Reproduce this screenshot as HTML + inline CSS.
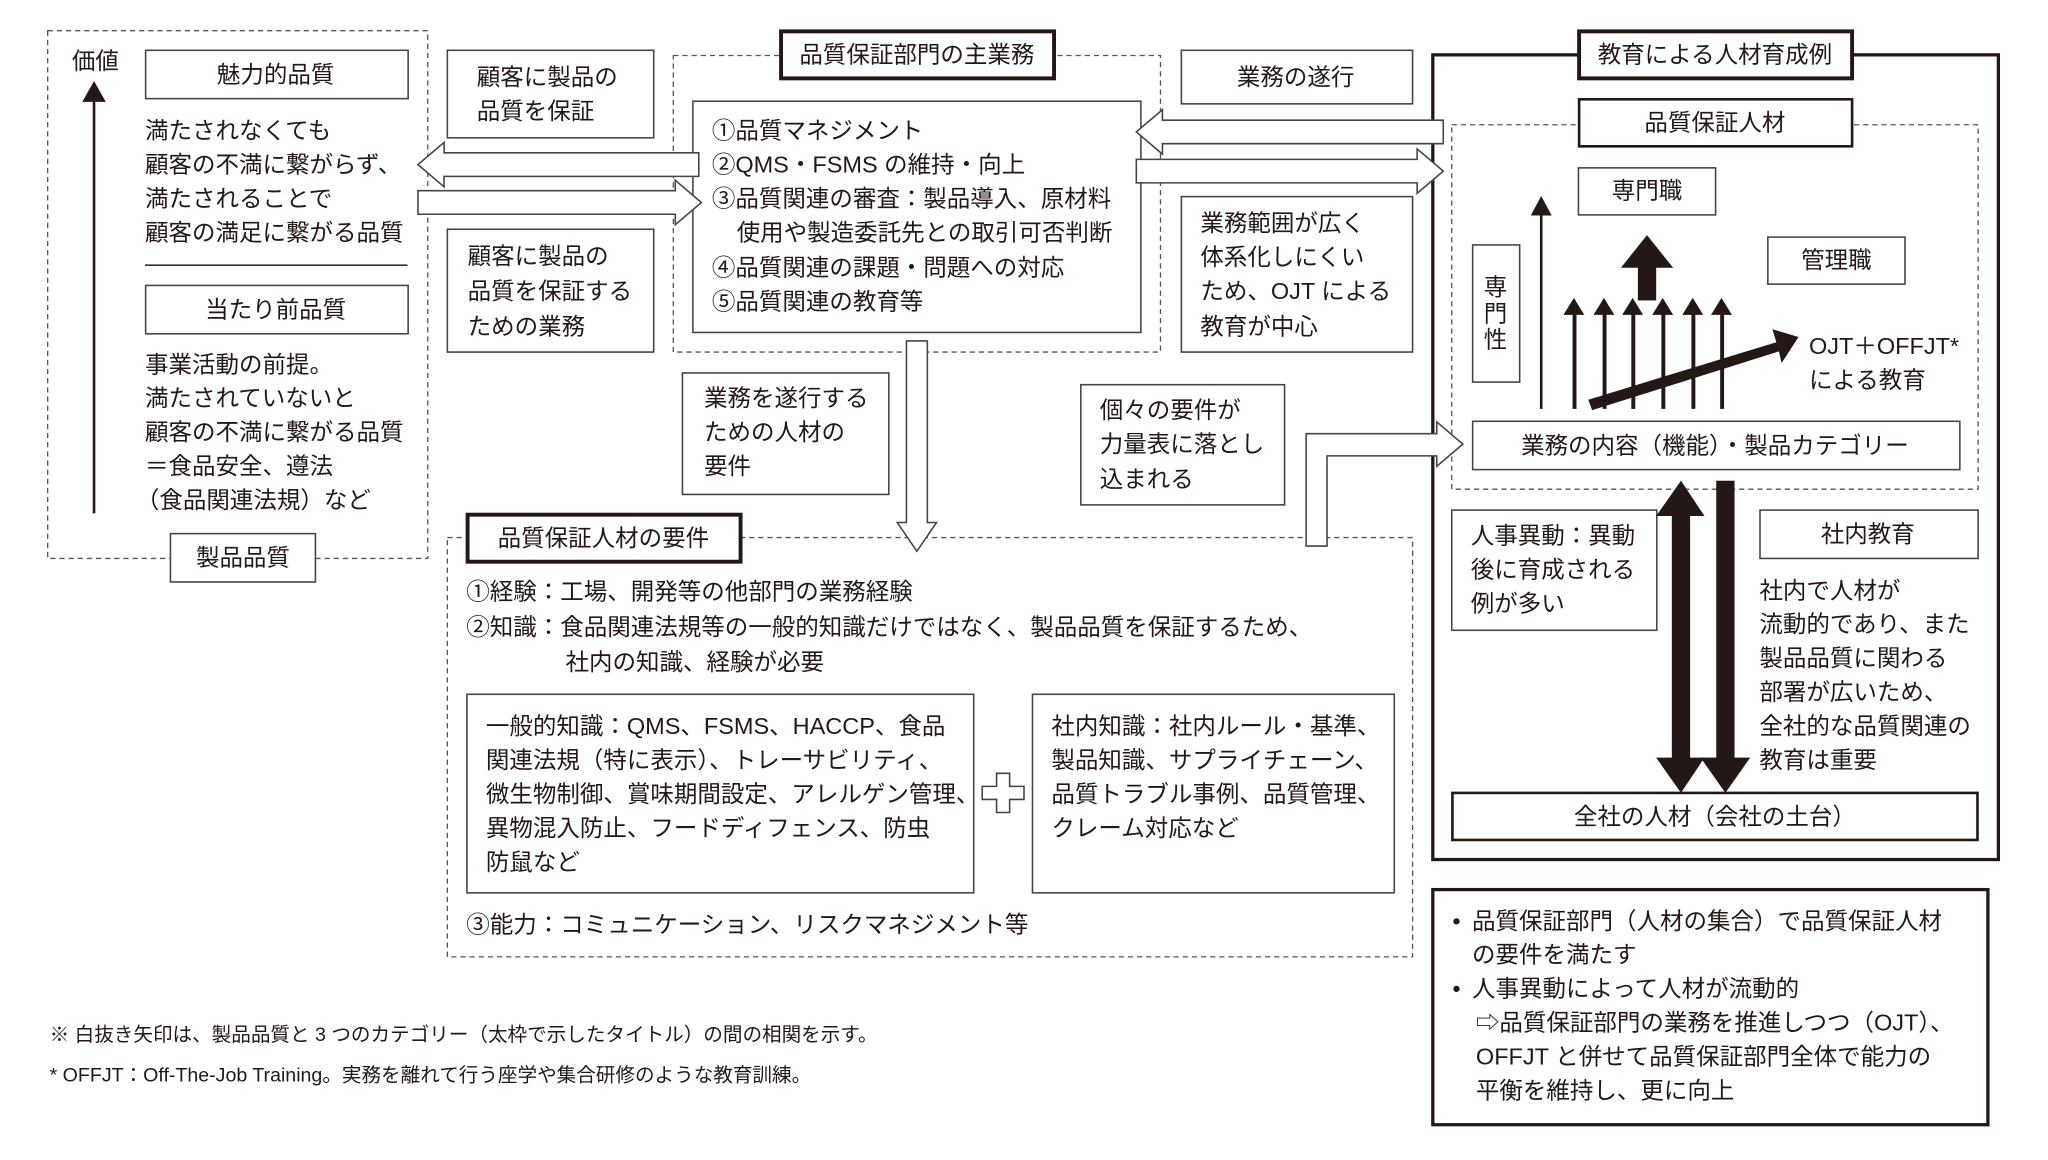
<!DOCTYPE html>
<html><head><meta charset="utf-8"><style>
html,body{margin:0;padding:0;background:#fff;}
svg{display:block;}
text{font-family:"Liberation Sans","Noto Sans CJK JP",sans-serif;fill:#231815;font-size:18px;}
.s{font-size:15px;}
</style></head><body>
<svg width="2048" height="1160" viewBox="0 0 1568 888" preserveAspectRatio="none" xmlns="http://www.w3.org/2000/svg">
<g fill="none" stroke="#555" stroke-width="1" stroke-dasharray="4,3">
<rect x="36.5" y="23.5" width="291" height="404"/>
<rect x="515.5" y="42.5" width="373" height="227"/>
<rect x="342.5" y="411.5" width="739" height="321"/>
<rect x="1111.5" y="95.5" width="403" height="279"/>
</g>
<g fill="#fff" stroke="#444" stroke-width="1.2">
<rect x="111.5" y="38.5" width="201" height="37"/>
<rect x="111.5" y="218.5" width="201" height="37"/>
<rect x="130.5" y="408.5" width="111" height="37"/>
<rect x="342.5" y="38.5" width="158" height="67"/>
<rect x="342.5" y="175.5" width="158" height="94"/>
<rect x="530.5" y="77.5" width="343" height="177"/>
<rect x="522.5" y="285.5" width="158" height="93"/>
<rect x="904.5" y="38.5" width="177" height="41"/>
<rect x="904.5" y="150.5" width="177" height="119"/>
<rect x="827.5" y="294.5" width="156" height="92"/>
<rect x="357.5" y="531.5" width="388" height="152"/>
<rect x="790.5" y="531.5" width="277" height="152"/>
<rect x="1208.5" y="128.5" width="105" height="36"/>
<rect x="1353.5" y="181.5" width="105" height="36"/>
<rect x="1127.5" y="187.5" width="36" height="105"/>
<rect x="1127.5" y="322.5" width="373" height="37"/>
<rect x="1111.5" y="390.5" width="157" height="92"/>
<rect x="1347.5" y="390.5" width="167" height="37"/>
</g>
<line x1="111" y1="203" x2="312" y2="203" stroke="#333" stroke-width="1.2"/>
<g fill="none" stroke="#231815">
<rect x="1097" y="42" width="433" height="616" stroke-width="2.5"/>
<rect x="1097" y="681" width="425" height="180" stroke-width="2.5"/>
</g>
<g fill="#fff" stroke="#231815">
<rect x="598" y="24" width="209" height="36" stroke-width="3"/>
<rect x="358" y="394" width="209" height="36" stroke-width="3"/>
<rect x="1209" y="24" width="209" height="36" stroke-width="3"/>
<rect x="1209" y="76" width="209" height="36" stroke-width="2"/>
<rect x="1112" y="607" width="402" height="36" stroke-width="2"/>
</g>
<g fill="#fff" stroke="#444" stroke-width="1.2">
<polygon points="535,117 340,117 340,109 320,126 340,143 340,135 535,135"/>
<polygon points="320,146 517,146 517,138 537,155 517,172 517,164 320,164"/>
<polygon points="1105,92 890,92 890,84 870,101 890,118 890,110 1105,110"/>
<polygon points="870,122 1085,122 1085,114 1105,131 1085,148 1085,140 870,140"/>
<polygon points="694,261 710,261 710,400 717,400 702,422 687,400 694,400"/>
<polygon points="1000,418 1016,418 1016,349 1100,349 1100,357 1120,340 1100,323 1100,332 1000,332"/>
<polygon points="763,592 773,592 773,602 784,602 784,612 773,612 773,622 763,622 763,612 752,612 752,602 763,602"/>
</g>
<g fill="#231815" stroke="none">
<rect x="71" y="75" width="2" height="318"/><polygon points="63,78 81,78 72,62"/>
<rect x="1179" y="162" width="2" height="151"/><polygon points="1172,165 1188,165 1180,150"/>
<rect x="1204" y="238" width="3" height="75"/><polygon points="1197,241 1213,241 1205,228"/>
<rect x="1227" y="238" width="3" height="75"/><polygon points="1220,241 1236,241 1228,228"/>
<rect x="1249" y="238" width="3" height="75"/><polygon points="1242,241 1258,241 1250,228"/>
<rect x="1272" y="238" width="3" height="75"/><polygon points="1265,241 1281,241 1273,228"/>
<rect x="1295" y="238" width="3" height="75"/><polygon points="1288,241 1304,241 1296,228"/>
<rect x="1317" y="238" width="3" height="75"/><polygon points="1310,241 1326,241 1318,228"/>
<rect x="1254" y="204" width="14" height="26"/><polygon points="1241,205 1281,205 1261,180"/>
<polygon points="1216,306 1360,262 1357,252 1377,258 1364,278 1362,269 1219,314"/>
<rect x="1280" y="392" width="14" height="190"/>
<polygon points="1268,395 1305,395 1287,368"/>
<polygon points="1268,580 1305,580 1287,607"/>
<rect x="1314" y="368" width="14" height="214"/>
<polygon points="1302,580 1340,580 1321,607"/>
</g>
<text x="55" y="53">価値</text>
<text x="211" y="63" text-anchor="middle">魅力的品質</text>
<text x="111" y="106">満たされなくても</text>
<text x="111" y="132">顧客の不満に繋がらず、</text>
<text x="111" y="158">満たされることで</text>
<text x="111" y="184">顧客の満足に繋がる品質</text>
<text x="211" y="243" text-anchor="middle">当たり前品質</text>
<text x="111" y="285">事業活動の前提。</text>
<text x="111" y="311">満たされていないと</text>
<text x="111" y="337">顧客の不満に繋がる品質</text>
<text x="111" y="363">＝食品安全、遵法</text>
<text x="104" y="389">（食品関連法規）など</text>
<text x="186" y="433" text-anchor="middle">製品品質</text>
<text x="365" y="65">顧客に製品の</text>
<text x="365" y="91">品質を保証</text>
<text x="358" y="202">顧客に製品の</text>
<text x="358" y="229">品質を保証する</text>
<text x="358" y="256">ための業務</text>
<text x="702" y="48" text-anchor="middle">品質保証部門の主業務</text>
<text x="545" y="106">①品質マネジメント</text>
<text x="545" y="132">②QMS・FSMS の維持・向上</text>
<text x="545" y="158">③品質関連の審査：製品導入、原材料</text>
<text x="564" y="184">使用や製造委託先との取引可否判断</text>
<text x="545" y="211">④品質関連の課題・問題への対応</text>
<text x="545" y="237">⑤品質関連の教育等</text>
<text x="539" y="311">業務を遂行する</text>
<text x="539" y="337">ための人材の</text>
<text x="539" y="363">要件</text>
<text x="992" y="65" text-anchor="middle">業務の遂行</text>
<text x="919" y="177">業務範囲が広く</text>
<text x="919" y="203">体系化しにくい</text>
<text x="919" y="229">ため、OJT による</text>
<text x="919" y="256">教育が中心</text>
<text x="842" y="320">個々の要件が</text>
<text x="842" y="346">力量表に落とし</text>
<text x="842" y="373">込まれる</text>
<text x="462" y="418" text-anchor="middle">品質保証人材の要件</text>
<text x="357" y="459">①経験：工場、開発等の他部門の業務経験</text>
<text x="357" y="486">②知識：食品関連法規等の一般的知識だけではなく、製品品質を保証するため、</text>
<text x="433" y="513">社内の知識、経験が必要</text>
<text x="372" y="562">一般的知識：QMS、FSMS、HACCP、食品</text>
<text x="372" y="588">関連法規（特に表示）、トレーサビリティ、</text>
<text x="372" y="614">微生物制御、賞味期間設定、アレルゲン管理、</text>
<text x="372" y="640">異物混入防止、フードディフェンス、防虫</text>
<text x="372" y="666">防鼠など</text>
<text x="805" y="562">社内知識：社内ルール・基準、</text>
<text x="805" y="588">製品知識、サプライチェーン、</text>
<text x="805" y="614">品質トラブル事例、品質管理、</text>
<text x="805" y="640">クレーム対応など</text>
<text x="357" y="714">③能力：コミュニケーション、リスクマネジメント等</text>
<text class="s" x="38" y="797">※ 白抜き矢印は、製品品質と 3 つのカテゴリー（太枠で示したタイトル）の間の相関を示す。</text>
<text class="s" x="38" y="828">* OFFJT：Off-The-Job Training。実務を離れて行う座学や集合研修のような教育訓練。</text>
<text x="1313" y="48" text-anchor="middle">教育による人材育成例</text>
<text x="1313" y="100" text-anchor="middle">品質保証人材</text>
<text x="1261" y="152" text-anchor="middle">専門職</text>
<text x="1406" y="205" text-anchor="middle">管理職</text>
<text x="1145" y="226" text-anchor="middle">専</text>
<text x="1145" y="246" text-anchor="middle">門</text>
<text x="1145" y="266" text-anchor="middle">性</text>
<text x="1385" y="271">OJT＋OFFJT*</text>
<text x="1385" y="297">による教育</text>
<text x="1313" y="347" text-anchor="middle">業務の内容（機能）・製品カテゴリー</text>
<text x="1126" y="416">人事異動：異動</text>
<text x="1126" y="442">後に育成される</text>
<text x="1126" y="468">例が多い</text>
<text x="1430" y="415" text-anchor="middle">社内教育</text>
<text x="1347" y="458">社内で人材が</text>
<text x="1347" y="484">流動的であり、また</text>
<text x="1347" y="510">製品品質に関わる</text>
<text x="1347" y="536">部署が広いため、</text>
<text x="1347" y="562">全社的な品質関連の</text>
<text x="1347" y="588">教育は重要</text>
<text x="1313" y="631" text-anchor="middle">全社の人材（会社の土台）</text>
<text x="1112" y="711">•</text>
<text x="1127" y="711">品質保証部門（人材の集合）で品質保証人材</text>
<text x="1127" y="737">の要件を満たす</text>
<text x="1112" y="763">•</text>
<text x="1127" y="763">人事異動によって人材が流動的</text>
<text x="1130" y="789">⇨品質保証部門の業務を推進しつつ（OJT）、</text>
<text x="1130" y="815">OFFJT と併せて品質保証部門全体で能力の</text>
<text x="1130" y="841">平衡を維持し、更に向上</text>
</svg>
</body></html>
